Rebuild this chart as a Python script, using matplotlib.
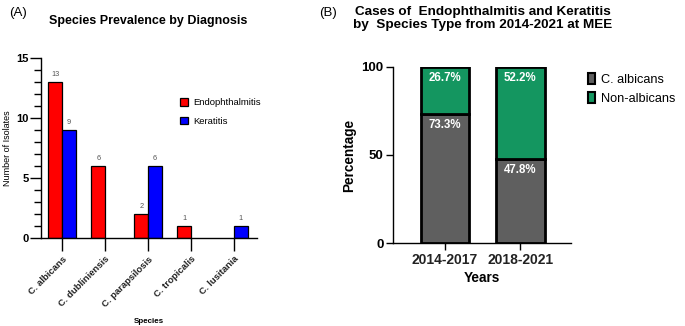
import matplotlib
matplotlib.use("Agg")
import matplotlib.pyplot as plt
from matplotlib.patches import Patch
import numpy as np

plt.rcParams['font.family'] = ['Liberation Sans', 'DejaVu Sans']

# panel A data
species = ["C. albicans", "C. dubliniensis", "C. parapsilosis", "C. tropicalis", "C. lusitania"]
endo = [13, 6, 2, 1, 0]
kera = [9, 0, 6, 0, 1]

# panel B data
periods = ["2014-2017", "2018-2021"]
albicans_pct = [73.3, 47.8]
nonalb_pct = [26.7, 52.2]

RED, BLUE = "#ff0000", "#0000ff"
GRAY, GREEN = "#5f5f5f", "#149660"

fig = plt.figure(figsize=(6.85, 3.26), dpi=100)

# ---- (A) ----
axA = fig.add_axes([0.0599, 0.270, 0.315, 0.552])
x = np.arange(len(species))
w = 0.32
for i in range(len(species)):
    if endo[i] > 0:
        axA.bar(x[i] - w/2, endo[i], w, color=RED, ec="black", lw=0.9, zorder=2)
        axA.text(x[i] - w/2, endo[i] + 0.35, str(endo[i]), ha="center", va="bottom",
                 fontsize=5.3, color="#555")
    if kera[i] > 0:
        axA.bar(x[i] + w/2, kera[i], w, color=BLUE, ec="black", lw=0.9, zorder=2)
        axA.text(x[i] + w/2, kera[i] + 0.35, str(kera[i]), ha="center", va="bottom",
                 fontsize=5.3, color="#555")
axA.set_xlim(-0.49, 4.53); axA.set_ylim(0, 15)
axA.set_yticks([0, 5, 10, 15])
axA.set_yticks(range(16), minor=True)
axA.set_xticks(x)
axA.set_xticklabels(species, rotation=45, ha="right", rotation_mode="anchor",
                    fontsize=6.8, fontweight="bold", color="#222")
for lab in axA.get_yticklabels():
    lab.set_fontweight("bold"); lab.set_fontsize(8)
axA.tick_params(axis="x", length=9, width=1, pad=3)
axA.tick_params(axis="y", which="major", length=8, width=1, pad=1)
axA.tick_params(axis="y", which="minor", length=5, width=1)
for s in ["top", "right"]:
    axA.spines[s].set_visible(False)
for s in ["left", "bottom"]:
    axA.spines[s].set_linewidth(1)
axA.set_ylabel("Number of Isolates", fontsize=6.5, labelpad=3)
axA.set_xlabel("Species", fontsize=5.8, fontweight="bold", labelpad=7)
hA = [Patch(fc=RED, ec="black", lw=0.9, label="Endophthalmitis"),
      Patch(fc=BLUE, ec="black", lw=0.9, label="Keratitis")]
axA.legend(handles=hA, loc="center left", bbox_to_anchor=(0.605, 0.70), frameon=False,
           fontsize=6.8, handlelength=0.8, handleheight=0.8, labelspacing=1.0,
           handletextpad=0.6)
fig.text(0.026, 0.96, "(A)", fontsize=9.5, ha="center", va="center")
fig.text(0.216, 0.935, "Species Prevalence by Diagnosis", fontsize=9, fontweight="bold",
         ha="center", va="center")

# ---- (B) ----
axB = fig.add_axes([0.574, 0.2546, 0.260, 0.540])
xb = np.arange(len(periods))
bw = 0.65
axB.bar(xb, albicans_pct, bw, color=GRAY, ec="black", lw=2, zorder=2)
axB.bar(xb, nonalb_pct, bw, bottom=albicans_pct, color=GREEN, ec="black", lw=2, zorder=2)
for i in range(len(periods)):
    axB.text(xb[i], albicans_pct[i] - 3, f"{albicans_pct[i]}%", ha="center", va="top",
             color="white", fontsize=8.3, fontweight="bold", zorder=3)
    axB.text(xb[i], 97, f"{nonalb_pct[i]}%", ha="center", va="top",
             color="white", fontsize=8.3, fontweight="bold", zorder=3)
axB.set_xlim(-0.69, 1.68); axB.set_ylim(0, 100)
axB.set_yticks([0, 50, 100])
axB.set_xticks(xb)
axB.set_xticklabels(periods, fontsize=10, fontweight="bold", color="#222")
for lab in axB.get_yticklabels():
    lab.set_fontweight("bold"); lab.set_fontsize(9.5)
axB.tick_params(axis="both", length=5, width=1, pad=2)
for s in ["top", "right"]:
    axB.spines[s].set_visible(False)
for s in ["left", "bottom"]:
    axB.spines[s].set_linewidth(1)
axB.set_ylabel("Percentage", fontsize=9.8, fontweight="bold", labelpad=4)
axB.set_xlabel("Years", fontsize=9.8, fontweight="bold", labelpad=3)
hB = [Patch(fc=GRAY, ec="black", lw=1.5, label="C. albicans"),
      Patch(fc=GREEN, ec="black", lw=1.5, label="Non-albicans")]
axB.legend(handles=hB, loc="upper left", bbox_to_anchor=(1.03, 1.03), frameon=False,
           fontsize=9.2, handlelength=0.55, handleheight=0.9, labelspacing=0.5,
           handletextpad=0.45)
fig.text(0.479, 0.96, "(B)", fontsize=9.5, ha="center", va="center")
fig.text(0.705, 0.943, "Cases of  Endophthalmitis and Keratitis\nby  Species Type from 2014-2021 at MEE",
         fontsize=9.7, fontweight="bold", ha="center", va="center", linespacing=1.2)

fig.savefig("out.png", dpi=100, facecolor="white")
